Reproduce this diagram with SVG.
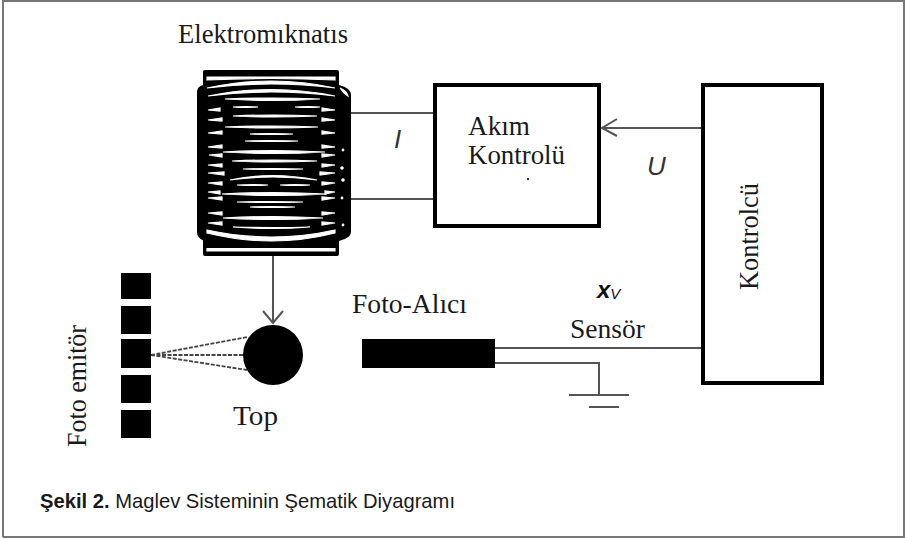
<svg xmlns="http://www.w3.org/2000/svg" width="905" height="538" viewBox="0 0 905 538">
<defs><filter id="b" x="-5%" y="-5%" width="110%" height="110%"><feGaussianBlur stdDeviation="0.4"/></filter></defs>
<style>
text{font-family:"Liberation Serif",serif;fill:#1a1a1a;font-size:27px}
.it{font-family:"Liberation Sans",sans-serif;font-style:italic;fill:#333}
.w{fill:none;stroke:#555;stroke-width:2}
.box{fill:#fff;stroke:#000;stroke-width:4}
.d{fill:none;stroke:#444;stroke-width:1.8;stroke-dasharray:4 1.5}
.s{fill:#000}
.l{fill:#fff;stroke:#fff;stroke-width:1.2}
</style>
<path d="M3 537V1H904V537H3" fill="#fff" stroke="#777" stroke-width="2"/>
<g id="connectors">
<path class="w" d="M350 113H434M350 199H434M273 256V322"/>
<path class="w" d="M263 311L273 323L283 311"/>
<path class="w" d="M702 128H602M617 119L602 128L617 136"/>
<path class="w" d="M495 348H702M495 363H599V394M569 395H629M589 407H619"/>
<path class="d" d="M151 355L248 337M151 355H243M151 355L247 370"/>
</g>
<g id="elektromiknatis" filter="url(#b)">
<rect x="203" y="70" width="136" height="186" rx="2" fill="#000"/>
<path d="M197 92Q197 86 204 85H339Q351 88 351 95V232Q351 238 339 241H204Q197 238 197 232Z" fill="#000"/>
<path class="l" d="M207 77H335V80Q272 77 207 80ZM207 88Q272 74 335 88Q272 80 207 88ZM208 96Q272 83 335 96Q272 88 208 96ZM225 99Q272 97 320 99Q272 102 225 99ZM233 107Q246 106 258 107Q246 108 233 107ZM295 107Q308 106 320 107Q308 108 295 107ZM233 116Q272 114 317 116Q272 118 233 116ZM225 127Q272 125 318 127Q272 129 225 127ZM250 134Q272 133 293 134Q272 135 250 134ZM245 141Q272 140 298 141Q272 142 245 141ZM223 152Q272 149 325 152Q272 155 223 152ZM232 161Q272 159 317 161Q272 163 232 161ZM243 169Q272 168 303 169Q272 170 243 169ZM230 180Q272 171 317 180Q272 174 230 180ZM237 185Q255 184 268 185Q255 186 237 185ZM280 185Q295 184 310 185Q295 186 280 185ZM222 194Q272 191 327 194Q272 197 222 194ZM237 202Q272 201 303 202Q272 203 237 202ZM250 207Q272 206 295 207Q272 208 250 207ZM223 218Q272 215 323 218Q272 221 223 218ZM233 227Q272 230 310 227Q272 228 233 227ZM207 230Q272 244 335 230L335 233Q272 249 207 233ZM207 248.500H335V251H207Z"/>
<path class="l" d="M208 110L220 108V111ZM208 120L222 118V121ZM208 133L222 131V134ZM208 147L222 145V148ZM209 155L222 154V157ZM208 165L222 164V167ZM208 173L224 172V175ZM208 183L222 182V185ZM208 192L220 191V194ZM208 198L222 197V200ZM208 213L222 212V215ZM208 223L222 222V225ZM335 110L322 108V111ZM335 120L322 118V121ZM335 133L322 131V134ZM335 147L322 145V148ZM335 155L322 154V157ZM335 165L322 164V167ZM335 173L320 172V175ZM335 183L322 182V185ZM335 192L325 191V194ZM335 198L322 197V200ZM335 213L322 212V215ZM335 223L322 222V225Z"/>
<circle class="l" cx="342" cy="168" r="1.2"/><circle class="l" cx="343" cy="180" r="1.2"/><circle class="l" cx="343" cy="150" r="0.8"/><circle class="l" cx="342" cy="198" r="0.8"/><circle class="l" cx="343" cy="225" r="0.8"/><path class="l" d="M340 88Q347 91 348 96L344 93Z"/>
</g>
<g id="elektromiknatis-label"><text x="178" y="43" textLength="170" lengthAdjust="spacingAndGlyphs">Elektromıknatıs</text></g>
<g id="akim-kontrolu">
<rect class="box" x="435" y="85" width="164" height="141"/>
<text x="468" y="135" textLength="62" lengthAdjust="spacingAndGlyphs">Akım</text>
<text x="468" y="164" textLength="97" lengthAdjust="spacingAndGlyphs">Kontrolü</text>
<circle cx="528" cy="179" r="1.2" fill="#336"/>
</g>
<g id="kontrolcu">
<rect class="box" x="703" y="85" width="119" height="298"/>
<text transform="translate(758 290) rotate(-90)" textLength="107" lengthAdjust="spacingAndGlyphs">Kontrolcü</text>
</g>
<g id="foto-emitor">
<rect class="s" x="121" y="273" width="30" height="26"/>
<rect class="s" x="121" y="306" width="30" height="28"/>
<rect class="s" x="121" y="339" width="30" height="29"/>
<rect class="s" x="121" y="375" width="30" height="28"/>
<rect class="s" x="121" y="410" width="30" height="28"/>
<text transform="translate(86 447) rotate(-90)" textLength="122" lengthAdjust="spacingAndGlyphs">Foto emitör</text>
</g>
<g id="top">
<circle class="s" cx="273" cy="355" r="30"/>
<text x="233" y="425" textLength="45" lengthAdjust="spacingAndGlyphs">Top</text>
</g>
<g id="foto-alici">
<rect class="s" x="362" y="339" width="133" height="29"/>
<text x="352" y="313" textLength="115" lengthAdjust="spacingAndGlyphs">Foto-Alıcı</text>
</g>
<text class="it" x="394" y="148" style="font-size:26px">I</text>
<text class="it" x="647" y="175" style="font-size:26px">U</text>
<text x="597" y="298" font-weight="bold" class="it" style="font-size:24px;fill:#111">x<tspan style="font-size:15px" font-weight="normal" dy="1">V</tspan></text>
<text x="570" y="338" textLength="75" lengthAdjust="spacingAndGlyphs">Sensör</text>
<text x="40" y="508" style="font-family:'Liberation Sans',sans-serif;font-size:21px" textLength="415" lengthAdjust="spacingAndGlyphs"><tspan font-weight="bold">Şekil 2.</tspan> Maglev Sisteminin Şematik Diyagramı</text>
</svg>
